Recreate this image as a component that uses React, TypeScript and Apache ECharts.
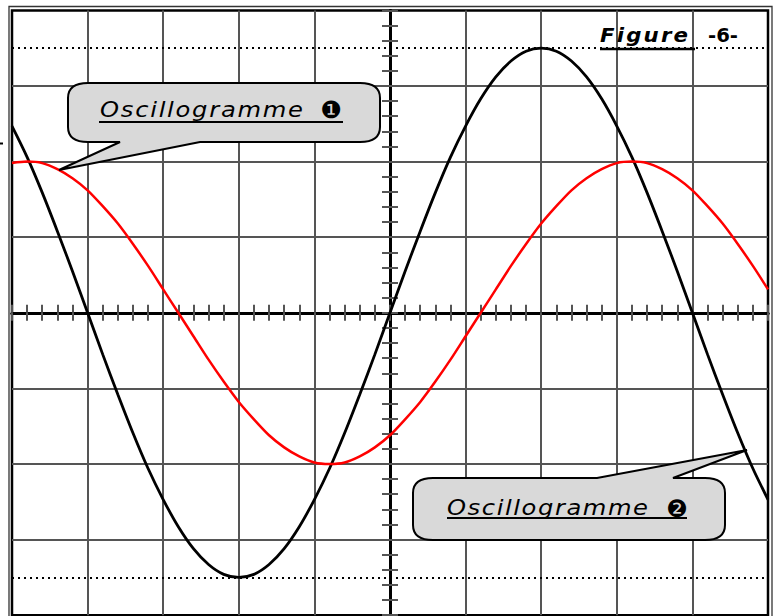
import React, { useEffect, useRef } from "react";
import * as echarts from "echarts";

// time axis in divisions, one value per minor tick (0.2 div)
const xDiv = [
  -5, -4.8, -4.6, -4.4, -4.2, -4, -3.8, -3.6, -3.4, -3.2, -3, -2.8, -2.6, -2.4, -2.2, -2, -1.8, -1.6, -1.4, -1.2, -1,
  -0.8, -0.6, -0.4, -0.2, 0, 0.2, 0.4, 0.6, 0.8, 1, 1.2, 1.4, 1.6, 1.8, 2, 2.2, 2.4, 2.6, 2.8, 3, 3.2, 3.4, 3.6, 3.8,
  4, 4.2, 4.4, 4.6, 4.8, 5,
];
// Oscillogramme (black) read in divisions
const blackDiv = [
  2.47, 2.06, 1.59, 1.08, 0.55, 0, -0.55, -1.08, -1.59, -2.06, -2.47, -2.83, -3.12, -3.33, -3.46, -3.5, -3.46, -3.33,
  -3.12, -2.83, -2.47, -2.06, -1.59, -1.08, -0.55, 0, 0.55, 1.08, 1.59, 2.06, 2.47, 2.83, 3.12, 3.33, 3.46, 3.5, 3.46,
  3.33, 3.12, 2.83, 2.47, 2.06, 1.59, 1.08, 0.55, 0, -0.55, -1.08, -1.59, -2.06, -2.47,
];
// Oscillogramme (red) read in divisions
const redDiv = [
  1.98, 2, 1.98, 1.9, 1.78, 1.62, 1.41, 1.18, 0.91, 0.62, 0.31, 0, -0.31, -0.62, -0.91, -1.18, -1.41, -1.62, -1.78, -1.9,
  -1.98, -2, -1.98, -1.9, -1.78, -1.62, -1.41, -1.18, -0.91, -0.62, -0.31, 0, 0.31, 0.62, 0.91, 1.18, 1.41, 1.62, 1.78,
  1.9, 1.98, 2, 1.98, 1.9, 1.78, 1.62, 1.41, 1.18, 0.91, 0.62, 0.31,
];
// peak levels marked with dotted lines
const peakLevels = [3.5, -3.5];

const label1 = "Oscillogramme";
const mark1 = "\u2776";
const mark2 = "\u2777";
const figWord = "Figure";
const figNum = "-6-";

const FONT = '"DejaVu Sans", Verdana, sans-serif';

echarts.graphic.registerShape(
  "callout1",
  echarts.graphic.extendPath(
    "M 88 83 L 360 83 Q 380 83 380 98 L 380 127 Q 380 142 360 142 L 200 142 L 59 170 L 120 142 L 88 142 Q 68 142 68 127 L 68 98 Q 68 83 88 83 Z",
    {}
  )
);
echarts.graphic.registerShape(
  "callout2",
  echarts.graphic.extendPath(
    "M 433 478 L 597 478 L 747 450 L 673 478 L 705 478 Q 725 478 725 493 L 725 525 Q 725 540 705 540 L 433 540 Q 413 540 413 525 L 413 493 Q 413 478 433 478 Z",
    {}
  )
);

// lays characters out between x0 and x1, each slightly widened, with even tracking
function trackedText(str: string, x0: number, x1: number, baseline: number, font: string, size: number, sx: number) {
  const cv = document.createElement("canvas");
  const ctx = cv.getContext("2d")!;
  ctx.font = font;
  const chars = Array.from(str);
  const widths = chars.map((c) => ctx.measureText(c).width * sx);
  const total = widths.reduce((a, b) => a + b, 0);
  const gap = chars.length > 1 ? (x1 - x0 - total) / (chars.length - 1) : 0;
  let x = x0;
  return chars.map((c, i) => {
    const el = {
      type: "text",
      x,
      y: baseline - 0.35 * size,
      scaleX: sx,
      z: 110,
      style: { text: c, font, fill: "#000", align: "left", verticalAlign: "middle" },
    };
    x += widths[i] + gap;
    return el;
  });
}

function fitText(str: string, x0: number, x1: number, baseline: number, font: string, size: number) {
  const cv = document.createElement("canvas");
  const ctx = cv.getContext("2d")!;
  ctx.font = font;
  const w = ctx.measureText(str).width || 1;
  return {
    type: "text",
    x: x0,
    y: baseline - 0.35 * size,
    scaleX: (x1 - x0) / w,
    z: 110,
    style: { text: str, font, fill: "#000", align: "left", verticalAlign: "middle" },
  };
}

export default function App() {
  const ref = useRef<HTMLDivElement>(null);
  useEffect(() => {
    const chart = echarts.init(ref.current!, undefined, { renderer: "svg" });
    const f1 = `italic 22px ${FONT}`;
    const fFig = `italic bold 19px ${FONT}`;
    const fNum = `bold 19px ${FONT}`;
    const axisCommon = (pos: string, main: boolean) => ({
      type: "value",
      position: pos,
      axisLine: { show: true, onZero: true, lineStyle: { color: "#000", width: 3 } },
      axisTick: { show: true, length: 8, lineStyle: { color: "#555", width: 2 } },
      minorTick: { show: true, splitNumber: 5, length: 8, lineStyle: { color: "#555", width: 2 } },
      splitLine: { show: main, showMinLine: false, showMaxLine: false, lineStyle: { color: "#555", width: 2 } },
      axisLabel: { show: false },
    });
    chart.setOption({
      animation: false,
      grid: {
        left: 12,
        top: 10.4,
        width: 756,
        height: 604.8,
        show: true,
        borderColor: "#000",
        borderWidth: 2.5,
      },
      xAxis: [
        { ...axisCommon("bottom", true), min: -5, max: 5, interval: 1 },
        { ...axisCommon("top", false), min: -5, max: 5, interval: 1 },
      ],
      yAxis: [
        { ...axisCommon("left", true), min: -4, max: 4, interval: 1 },
        { ...axisCommon("right", false), min: -4, max: 4, interval: 1 },
      ],
      series: [
        {
          type: "line",
          xAxisIndex: 0,
          yAxisIndex: 0,
          smooth: 0.3,
          showSymbol: false,
          data: xDiv.map((x, i) => [x, blackDiv[i]]),
          lineStyle: { color: "#000", width: 2.8 },
          z: 5,
          markLine: {
            silent: true,
            symbol: "none",
            label: { show: false },
            lineStyle: { color: "#000", width: 2, type: [2, 4] },
            data: peakLevels.map((v) => ({ yAxis: v })),
          },
        },
        {
          type: "line",
          xAxisIndex: 0,
          yAxisIndex: 0,
          smooth: 0.3,
          showSymbol: false,
          data: xDiv.map((x, i) => [x, redDiv[i]]),
          lineStyle: { color: "#ff0000", width: 2.5 },
          z: 6,
        },
      ],
      graphic: [
        {
          type: "rect",
          z: 100,
          shape: { x: 9, y: 6.5, width: 763, height: 640 },
          style: { fill: "none", stroke: "#333", lineWidth: 1.3 },
        },
        { type: "line", z: 100, shape: { x1: 0, y1: 143.5, x2: 3, y2: 143.5 }, style: { stroke: "#000", lineWidth: 2 } },
        {
          type: "callout1",
          z: 105,
          style: { fill: "#d9d9d9", stroke: "#000", lineWidth: 2 },
        },
        {
          type: "callout2",
          z: 105,
          style: { fill: "#d9d9d9", stroke: "#000", lineWidth: 2 },
        },
        ...trackedText(label1, 100, 303, 117, f1, 22, 1.1),
        {
          type: "text",
          x: 331,
          y: 110,
          z: 110,
          style: { text: mark1, font: `24px ${FONT}`, fill: "#000", align: "center", verticalAlign: "middle" },
        },
        { type: "line", z: 110, shape: { x1: 99, y1: 122, x2: 343, y2: 122 }, style: { stroke: "#000", lineWidth: 2 } },
        ...trackedText(label1, 447, 648, 515, f1, 22, 1.1),
        {
          type: "text",
          x: 677,
          y: 509,
          z: 110,
          style: { text: mark2, font: `24px ${FONT}`, fill: "#000", align: "center", verticalAlign: "middle" },
        },
        { type: "line", z: 110, shape: { x1: 447, y1: 518, x2: 687, y2: 518 }, style: { stroke: "#000", lineWidth: 2 } },
        ...trackedText(figWord, 600, 688, 42, fFig, 19, 1.12),
        fitText(figNum, 708, 738, 42, fNum, 19),
        { type: "line", z: 110, shape: { x1: 600, y1: 49, x2: 695, y2: 49 }, style: { stroke: "#000", lineWidth: 2.5 } },
      ],
    });
    return () => chart.dispose();
  }, []);
  return (
    <div
      ref={ref}
      style={{ position: "fixed", left: 0, top: 0, width: 776, height: 616, background: "#fff" }}
    />
  );
}
